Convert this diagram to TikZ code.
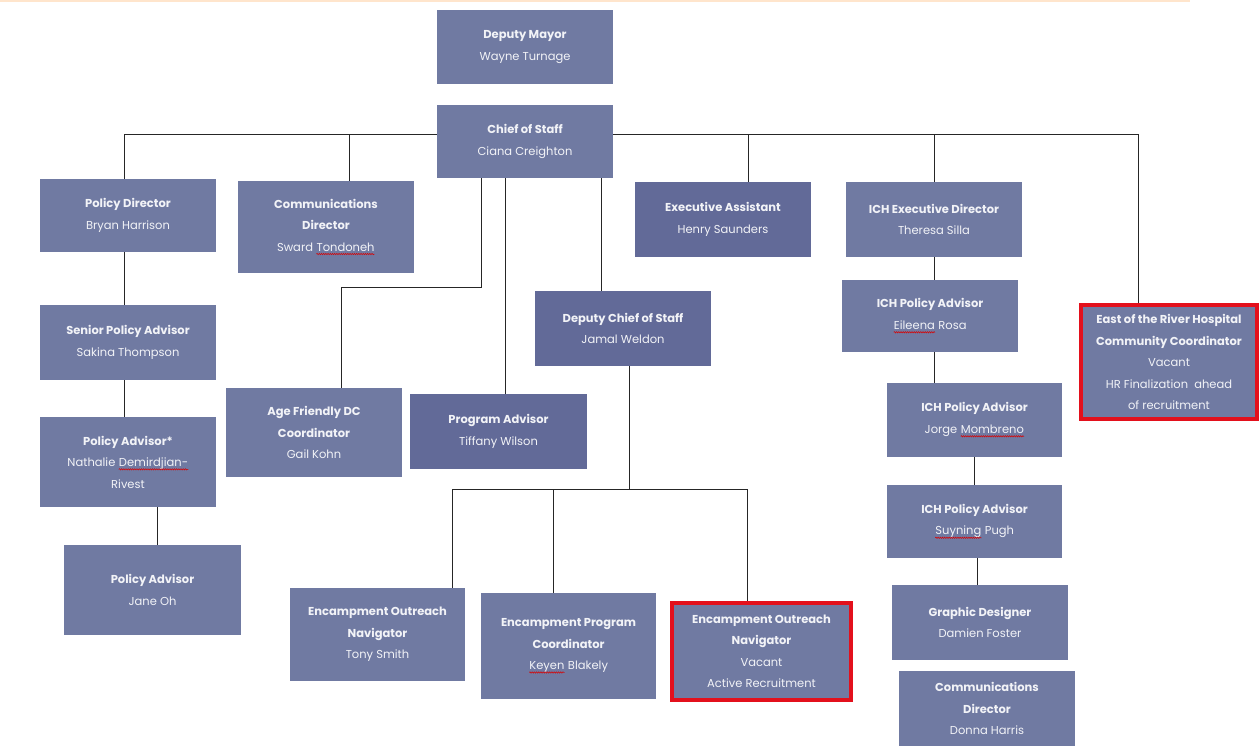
\documentclass[tikz,border=0pt]{standalone}
\usepackage{fontspec}
\setmainfont{Poppins}
\usetikzlibrary{decorations.pathmorphing}
\definecolor{boitebleu}{HTML}{707AA2}
\definecolor{boitefonce}{HTML}{626A98}
\definecolor{texteboite}{HTML}{F2F3F7}
\definecolor{rougevacant}{HTML}{E3101C}
% soulignement ondule des fautes
\newcommand\fautemark[1]{\tikz[baseline=(w.base)]{\node[inner sep=0pt,minimum width=0pt,minimum height=0pt,
    fill=none,draw=none] (w) {#1};
  \draw[red!85!black,line width=0.5pt,decorate,decoration={snake,amplitude=0.7pt,segment length=2.2pt}]
  ([yshift=-2.8pt]w.base west) -- ([yshift=-2.8pt]w.base east);}}
\begin{document}
\begin{tikzpicture}[x=1pt,y=-1pt,
  boite/.style={fill=boitebleu,text=texteboite,align=center,inner sep=0pt,
    font=\fontsize{11.5}{21.5}\selectfont},
  fonce/.style={boite,fill=boitefonce},
  vacant/.style={boite,draw=rougevacant,line width=3.5pt},
  taille/.style 2 args={minimum width=#1pt,minimum height=#2pt},
  lien/.style={draw=black!85,line width=0.9pt}]
\useasboundingbox (0,0) rectangle (1260,748);
\draw[orange!20,line width=2pt] (0,1) -- (1190,1);

% Direction
\node[boite,taille={176}{74}] (mayor) at (525,47) {\textbf{Deputy Mayor}\\Wayne Turnage};
\node[boite,taille={176}{73}] (cos) at (525,141.5) {\textbf{Chief of Staff}\\Ciana Creighton};

% Premier niveau
\node[boite,taille={176}{73}] (poldir) at (128,215.5) {\textbf{Policy Director}\\Bryan Harrison};
\node[boite,taille={176}{92}] (comdir) at (326,227) {\textbf{Communications}\\\textbf{Director}\\Sward \fautemark{Tondoneh}};
\node[fonce,taille={176}{75}] (execasst) at (723,219.5) {\textbf{Executive Assistant}\\Henry Saunders};
\node[boite,taille={176}{75}] (ichdir) at (934,219.5) {\textbf{ICH Executive Director}\\Theresa Silla};
\node[vacant,taille={176}{114}] (eor) at (1169,362) {\textbf{East of the River Hospital}\\\textbf{Community Coordinator}\\Vacant\\HR Finalization\ \ ahead\\of recruitment};

% Branche politique
\node[boite,taille={176}{75}] (senior) at (128,342.5) {\textbf{Senior Policy Advisor}\\Sakina Thompson};
\node[boite,taille={176}{90}] (poladv) at (128,462) {\textbf{Policy Advisor*}\\Nathalie \fautemark{Demirdjian-}\\Rivest};
\node[boite,taille={177}{90}] (janeoh) at (152.5,590) {\textbf{Policy Advisor}\\Jane Oh};

% Branche centrale
\node[boite,taille={176}{89}] (agefr) at (314,432.5) {\textbf{Age Friendly DC}\\\textbf{Coordinator}\\Gail Kohn};
\node[fonce,taille={177}{75}] (progadv) at (498.5,431.5) {\textbf{Program Advisor}\\Tiffany Wilson};
\node[fonce,taille={176}{75}] (depcos) at (623,328.5) {\textbf{Deputy Chief of Staff}\\Jamal Weldon};
\node[boite,taille={175}{93}] (eon) at (377.5,634.5) {\textbf{Encampment Outreach}\\\textbf{Navigator}\\Tony Smith};
\node[boite,taille={175}{106}] (epc) at (568.5,646) {\textbf{Encampment Program}\\\textbf{Coordinator}\\\fautemark{Keyen} Blakely};
\node[vacant,taille={179}{97}] (eonvac) at (761.5,651.5) {\textbf{Encampment Outreach}\\\textbf{Navigator}\\Vacant\\Active Recruitment};

% Branche ICH
\node[boite,taille={176}{72}] (eileena) at (930,316) {\textbf{ICH Policy Advisor}\\\fautemark{Eileena} Rosa};
\node[boite,taille={175}{74}] (jorge) at (974.5,420) {\textbf{ICH Policy Advisor}\\Jorge \fautemark{Mombreno}};
\node[boite,taille={175}{73}] (suyning) at (974.5,521.5) {\textbf{ICH Policy Advisor}\\\fautemark{Suyning} Pugh};
\node[boite,taille={176}{75}] (graphic) at (980,622.5) {\textbf{Graphic Designer}\\Damien Foster};
\node[boite,taille={176}{75}] (donna) at (987,708.5) {\textbf{Communications}\\\textbf{Director}\\Donna Harris};

% Liaisons
\coordinate (bus) at (0,134);
\coordinate (coude) at (0,287);
\coordinate (basbus) at (0,489);
\draw[lien] (cos.west |- bus) -| ([xshift=-4pt]poldir.north);
\draw[lien] ([xshift=23pt]comdir.north |- bus) -- ([xshift=23pt]comdir.north);
\draw[lien] (cos.east |- bus) -| ([xshift=-31pt]eor.north);
\draw[lien] ([xshift=25pt]execasst.north |- bus) -- ([xshift=25pt]execasst.north);
\draw[lien] (ichdir.north |- bus) -- (ichdir.north);
\draw[lien] ([xshift=-4pt]poldir.south) -- ([xshift=-4pt]senior.north);
\draw[lien] ([xshift=-4pt]senior.south) -- ([xshift=-4pt]poladv.north);
\draw[lien] ([xshift=29pt]poladv.south) -- ([xshift=29pt]poladv.south |- janeoh.north);
\draw[lien] ([xshift=-44pt]cos.south) |- ([xshift=27pt]agefr.north |- coude) -- ([xshift=27pt]agefr.north);
\draw[lien] ([xshift=-20pt]cos.south) -- ([xshift=-20pt]cos.south |- progadv.north);
\draw[lien] ([xshift=76pt]cos.south) -- ([xshift=76pt]cos.south |- depcos.north);
\draw[lien] ([xshift=6pt]depcos.south) -- ([xshift=6pt]depcos.south |- basbus);
\draw[lien] ([xshift=74.5pt]eon.north |- basbus) -- ([xshift=-14.5pt]eonvac.north |- basbus);
\draw[lien] ([xshift=74.5pt]eon.north |- basbus) -- ([xshift=74.5pt]eon.north);
\draw[lien] ([xshift=-15.5pt]epc.north |- basbus) -- ([xshift=-15.5pt]epc.north);
\draw[lien] ([xshift=-14.5pt]eonvac.north |- basbus) -- ([xshift=-14.5pt]eonvac.north);
\draw[lien] (ichdir.south) -- (ichdir.south |- eileena.north);
\draw[lien] ([xshift=4pt]eileena.south) -- ([xshift=4pt]eileena.south |- jorge.north);
\draw[lien] (jorge.south) -- (suyning.north);
\draw[lien] ([xshift=2.5pt]suyning.south) -- ([xshift=2.5pt]suyning.south |- graphic.north);

\end{tikzpicture}
\end{document}
